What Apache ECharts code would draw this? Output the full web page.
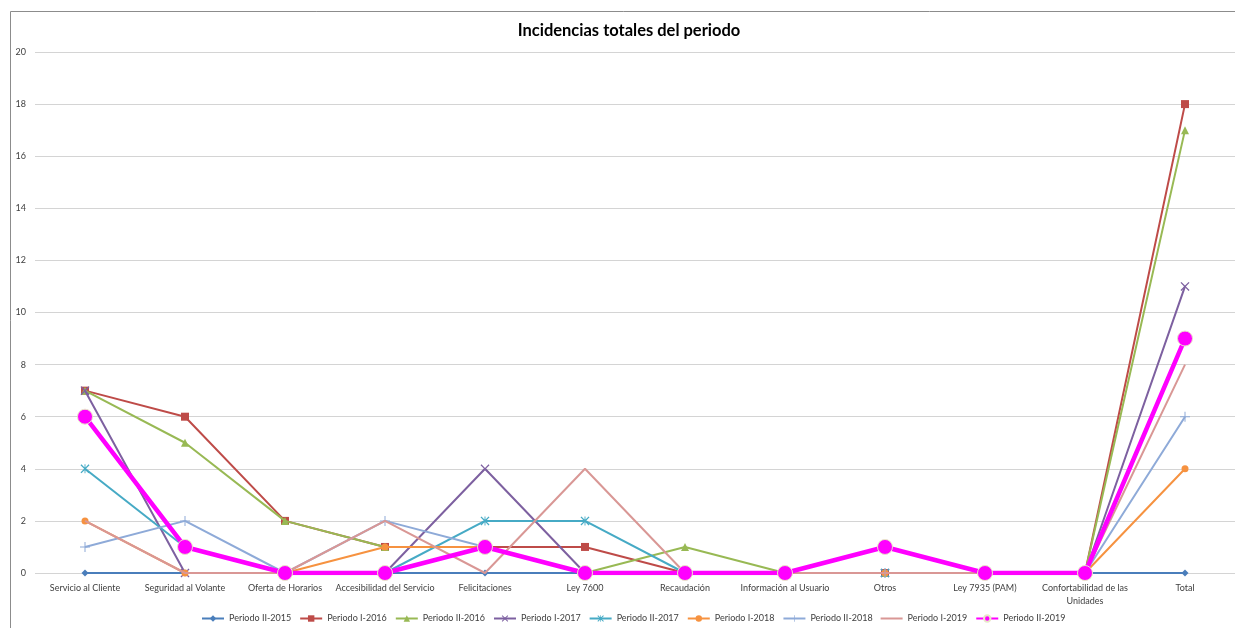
<!DOCTYPE html>
<html>
<head>
<meta charset="utf-8">
<script src="https://cdn.jsdelivr.net/npm/echarts@6/dist/echarts.min.js"></script>
<style>html,body{margin:0;padding:0;background:#fff}#c{width:1235px;height:628px}</style>
</head>
<body>
<div id="c"></div>
<script>
const categories = ["Servicio al Cliente","Seguridad al Volante","Oferta de Horarios","Accesibilidad del Servicio","Felicitaciones","Ley 7600","Recaudación","Información al Usuario","Otros","Ley 7935 (PAM)","Confortabilidad de las\nUnidades","Total"];
const seriesNames = ["Periodo II-2015","Periodo I-2016","Periodo II-2016","Periodo I-2017","Periodo II-2017","Periodo I-2018","Periodo II-2018","Periodo I-2019","Periodo II-2019"];
const pII2015 = [0,0,0,0,0,0,0,0,0,0,0,0];
const pI2016  = [7,6,2,1,1,1,0,0,0,0,0,18];
const pII2016 = [7,5,2,1,1,0,1,0,0,0,0,17];
const pI2017  = [7,0,0,0,4,0,0,0,0,0,0,11];
const pII2017 = [4,1,0,0,2,2,0,0,0,0,0,9];
const pI2018  = [2,0,0,1,1,0,0,0,0,0,0,4];
const pII2018 = [1,2,0,2,1,0,0,0,0,0,0,6];
const pI2019  = [2,0,0,2,0,4,0,0,0,0,0,8];
const pII2019 = [6,1,0,0,1,0,0,0,1,0,0,9];
const yTicks = {min:0, max:20, interval:2};

const dataList = [pII2015,pI2016,pII2016,pI2017,pII2017,pI2018,pII2018,pI2019,pII2019];
const colors = ['#4A7EBB','#BE4B48','#98B954','#7D60A0','#46AAC5','#F69240','#8EAAD8','#D99795','#FF00FF'];
const X = 'path://M0,1L1,0L5,4L9,0L10,1L6,5L10,9L9,10L5,6L1,10L0,9L4,5Z';
const PLUS = 'path://M4.5,0h1v4.5h4.5v1h-4.5v4.5h-1v-4.5h-4.5v-1h4.5z';
const AST = 'path://M0,1L1,0L5,4L9,0L10,1L6,5L10,9L9,10L5,6L1,10L0,9L4,5Z M4.5,0h1v10h-1z';
const symbols = ['diamond','rect','triangle',X,AST,'circle',PLUS,'none','circle'];
const sizes = [7,8,8,9,9,7,10,0,15];

const series = dataList.map((d,i)=>({
  name: seriesNames[i],
  type:'line',
  data:d,
  symbol: symbols[i],
  symbolSize: sizes[i],
  showSymbol: symbols[i] !== 'none',
  lineStyle:{color:colors[i], width: i===8 ? 4.5 : 2},
  itemStyle:{color:colors[i], borderColor: i===8 ? '#e8e8c8' : colors[i], borderWidth: i===8 ? 1 : 0},
  emphasis:{disabled:true},
  animation:false,
  z: 2 + i*0.01
}));

const legendData = seriesNames.map((n,i)=> symbols[i]==='none' ? {name:n, icon:'path://M0,0h22v2h-22z', itemStyle:{color:colors[i]}} : {name:n});

const chart = echarts.init(document.getElementById('c'));
chart.setOption({
  backgroundColor:'#fff',
  animation:false,
  title:{text:'Incidencias totales del periodo', left:624, top:17, textAlign:'center',
    textStyle:{fontFamily:'Lato', fontSize:16.5, fontWeight:'bold', color:'#000'}},
  graphic:[{type:'rect', shape:{x:10.5,y:11.5,width:1300,height:700}, style:{fill:'none', stroke:'#8c8c8c', lineWidth:1}, silent:true, z:-1}],
  grid:{left:35, top:52, width:1204, bottom:55, containLabel:false},
  legend:{bottom:0, left:196, itemWidth:22, itemHeight:8, itemGap:8,
    textStyle:{fontFamily:'Lato', fontSize:9, color:'#404040'},
    data: legendData},
  xAxis:{type:'category', data:categories, boundaryGap:true,
    axisLine:{show:false}, axisTick:{show:false},
    axisLabel:{interval:0, fontFamily:'Lato', fontSize:9, color:'#404040', margin:9, lineHeight:13}},
  yAxis:{type:'value', min:yTicks.min, max:yTicks.max, interval:yTicks.interval,
    axisLine:{show:false}, axisTick:{show:false},
    splitLine:{lineStyle:{color:'#d4d4d4', width:1}},
    axisLabel:{fontFamily:'Lato', fontSize:9, color:'#404040', margin:9}},
  series: series
});
</script>
</body>
</html>
